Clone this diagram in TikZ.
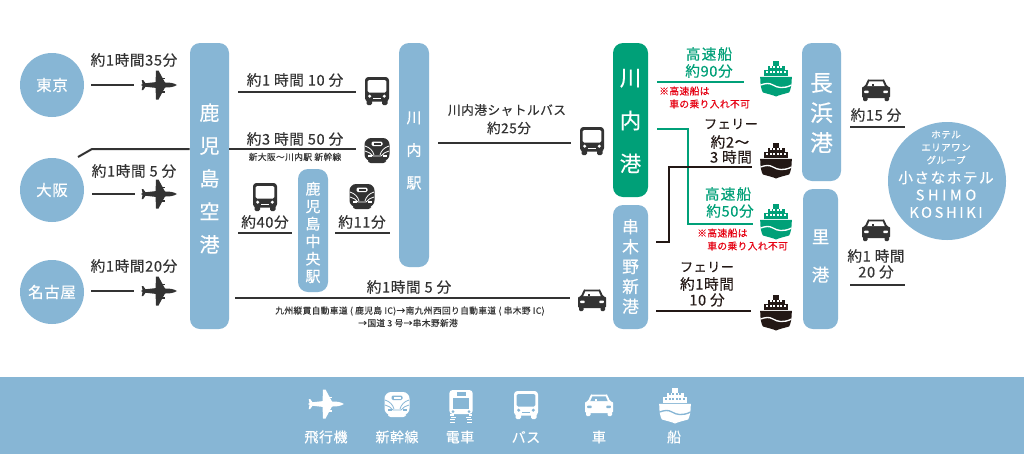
\documentclass[tikz,border=0pt]{standalone}
\usepackage{fontspec}
\setmainfont{Noto Sans CJK JP}[LetterSpace=4,FakeBold=0.35]
\newcommand{\wide}[1]{\addfontfeature{LetterSpace=#1}}
\definecolor{band}{HTML}{87B6D5}
\definecolor{grn}{HTML}{00A078}
\definecolor{txt}{HTML}{333333}
\definecolor{ink}{HTML}{231815}
\definecolor{rd}{HTML}{E60012}
\colorlet{fg}{txt}\colorlet{bg}{white}
\tikzset{
  lbl/.style={inner sep=0,align=center,text=txt,font=\fontsize{11}{12.8}\selectfont},
  ferry/.style={lbl,text=ink,font=\fontsize{11}{12.8}\selectfont},
  sublbl/.style={lbl,font=\fontsize{6.55}{9}\selectfont},
  redlbl/.style={inner sep=0,align=left,anchor=west,text=rd,font=\fontsize{7.3}{9.6}\selectfont},
  grnlbl/.style={lbl,text=grn,font=\fontsize{11}{12.8}\selectfont},
  barsty/.style={draw=none,rounded corners=7.5pt,inner sep=0},
  barlbl/.style={inner sep=0,align=center,text=white},
  circ/.style={circle,fill=band,inner sep=0,text=white,align=center},
  conn/.style={line width=1.5pt,draw=txt},
  thin conn/.style={line width=1.2pt,draw=txt},
  gconn/.style={line width=1.5pt,draw=grn},
  kconn/.style={line width=1.5pt,draw=ink},
  planeicon/.pic={
    \fill[fg] (-15,-1.6) -- (-4,-2.8) -- (10,-2.4) .. controls (14,-2) and (17,-0.8) .. (18,0)
      .. controls (17,0.8) and (14,2) .. (10,2.4) -- (-4,2.8) -- (-15,1.6) -- (-18,0) -- cycle;
    \fill[fg] (-3,-14.5) -- (-0.5,-14.5) -- (6.5,-1.5) -- (-3.5,-1.5) -- cycle;
    \fill[fg] (-3,14.5) -- (-0.5,14.5) -- (6.5,1.5) -- (-3.5,1.5) -- cycle;
    \fill[fg] (-17.3,-5) -- (-15.8,-5) -- (-13,-1) -- (-13,1) -- (-15.8,5) -- (-17.3,5) -- (-16.3,0) -- cycle;
    \fill[fg] (0,-7.5) rectangle (5.5,-5.8);
    \fill[fg] (0,5.8) rectangle (5.5,7.5);
  },
  busicon/.pic={
    \fill[fg,rounded corners=2.5] (-12,-14) rectangle (12,10.5);
    \fill[fg,rounded corners=1] (-10.5,8) rectangle (-5,14);
    \fill[fg,rounded corners=1] (5,8) rectangle (10.5,14);
    \fill[bg,rounded corners=1] (-9.3,-11) rectangle (9.3,1.5);
    \fill[bg] (-7.3,5.2) circle (1.7);
    \fill[bg] (7.3,5.2) circle (1.7);
    \fill[bg] (-4,7.2) rectangle (4,8.4);
  },
  trainicon/.pic={
    \fill[fg,rounded corners=5] (-12.5,-12) rectangle (12.5,11);
    \fill[fg,rounded corners=2] (-9,9) rectangle (9,13);
    \fill[bg,rounded corners=1] (-5.5,-8.5) rectangle (5.5,-4);
    \fill[fg] (-3.5,-7.5) rectangle (3.5,-5);
    \draw[bg,line width=.6] (-12,-4) .. controls (-7,-2.5) and (-4,1) .. (-3,5);
    \draw[bg,line width=.6] (12,-4) .. controls (7,-2.5) and (4,1) .. (3,5);
    \draw[bg,line width=.6] (-12,1) .. controls (-9,2) and (-6,3) .. (-4,6) -- (4,6) .. controls (6,3) and (9,2) .. (12,1);
    \fill[bg] (-9.5,5) rectangle (-5.5,7);
    \fill[bg] (5.5,5) rectangle (9.5,7);
  },
  tramicon/.pic={
    \fill[fg,rounded corners=2.5] (-11.7,-16) rectangle (11.7,8);
    \fill[bg] (-4.5,-13.7) rectangle (4.5,-10.5);
    \fill[bg] (-8.3,-8) rectangle (8.3,3);
    \fill[bg] (-8,5.5) circle (1.5);
    \fill[bg] (8,5.5) circle (1.5);
    \fill[fg] (-11,8) rectangle (-7.5,9.5);
    \fill[fg] (7.5,8) rectangle (11,9.5);
    \foreach \yy/\dd in {10.5/0,13/.6,15.5/1.2}{
      \fill[fg] (-10-\dd,\yy) rectangle (-5-\dd,\yy+1);
      \fill[fg] (5+\dd,\yy) rectangle (10+\dd,\yy+1);
    }
  },
  caricon/.pic={
    \fill[fg,rounded corners=1] (-14,8) -- (-14,-1) .. controls (-14,-3) and (-12,-3.5) .. (-11,-4)
      -- (-8.5,-9.5) .. controls (-8,-10.5) and (-7,-10.5) .. (-6,-10.5) -- (6,-10.5)
      .. controls (7,-10.5) and (8,-10.5) .. (8.5,-9.5) -- (11,-4) .. controls (12,-3.5) and (14,-3) .. (14,-1) -- (14,8) -- cycle;
    \fill[fg,rounded corners=.8] (-13,7) rectangle (-8.5,11);
    \fill[fg,rounded corners=.8] (8.5,7) rectangle (13,11);
    \fill[bg] (-8.8,-3.8) -- (-6.6,-8.7) -- (6.6,-8.7) -- (8.8,-3.8) -- cycle;
    \fill[fg] (-4.5,-6) rectangle (-2.5,-3.8);
    \fill[bg,rounded corners=.6] (-11.8,0.5) rectangle (-7.3,3.2);
    \fill[bg,rounded corners=.6] (7.3,0.5) rectangle (11.8,3.2);
  },
  shipicon/.pic={
    \fill[fg] (-15.8,-1.2) -- (15.8,-1.2) .. controls (16,6) and (14.5,13) .. (13,14.5)
      .. controls (8,16) and (3,17) .. (0,18.5)
      .. controls (-3,17) and (-8,16) .. (-13,14.5)
      .. controls (-14.5,13) and (-16,6) .. (-15.8,-1.2) -- cycle;
    \draw[bg,line width=1] (-15.5,7) .. controls (-11,5.5) and (-7,4.5) .. (-3,7)
      .. controls (1,9.8) and (8,11) .. (15.5,7);
    \fill[fg] (-12,-8) rectangle (12,-2.2);
    \fill[fg] (-8.5,-12.5) rectangle (8.5,-8);
    \fill[fg] (-2.8,-17.5) rectangle (2.8,-12.5);
    \foreach \xx in {-9.6,-6.1,-2.6,0.9,4.4,7.9}{\fill[bg] (\xx,-7.2) rectangle (\xx+1.9,-5);}
    \foreach \xx in {-6.2,-2.8,.6,4}{\fill[bg] (\xx,-11.7) rectangle (\xx+2.2,-9.6);}
  },
}
\newcommand{\icon}[5]{\colorlet{fg}{#4}\colorlet{bg}{#5}\pic at (#2,#3) {#1};}
\newcommand{\barn}[7]{\node[barsty,fill=#6,minimum width={(#4-#2)*0.75pt},minimum height={(#5-#3)*0.75pt}] (#1) at ({(#2+#4)/2},{(#3+#5)/2}) {};}
\newcommand{\hconn}[5]{\coordinate (#1a) at (#2,#4);\coordinate (#1b) at (#3,#4);\draw[#5] (#1a) -- (#1b);}
\begin{document}
\begin{tikzpicture}[x=0.75pt,y=-0.75pt]
\useasboundingbox (0,0) rectangle (1024,454);
\fill[white] (0,0) rectangle (1024,454);
\fill[band] (0,377) rectangle (1024,454);
% circles
\node[circ,minimum size=48pt,font=\fontsize{11.6}{13}\selectfont] (tokyo) at (52,85) {東京};
\node[circ,minimum size=48pt,font=\fontsize{11.6}{13}\selectfont] (osaka) at (52,190) {大阪};
\node[circ,minimum size=48pt,font=\fontsize{11.6}{13}\selectfont] (nagoya) at (52,292) {名古屋};
% bars
\barn{kagoshima}{190}{43}{229}{329}{band}{}
\barn{chuo}{298}{169}{328}{292}{band}{}
\barn{sendai}{399}{43}{429}{267}{band}{}
\barn{sendaiport}{613}{43}{648}{197}{grn}{}
\barn{kushikino}{613}{205}{648}{329}{band}{}
\barn{nagahama}{802}{43}{841}{181}{band}{}
\barn{sato}{803}{189}{838}{329}{band}{}
\node[barlbl,font=\fontsize{15}{24.7}\selectfont] (t1) at (209.5,178.5) {鹿\\児\\島\\空\\港};
\node[barlbl,font=\fontsize{11.2}{13.1}\selectfont] (t2) at (313,232.5) {鹿\\児\\島\\中\\央\\駅};
\node[barlbl,font=\fontsize{11.2}{24.5}\selectfont] (t3) at (414,150.5) {川\\内\\駅};
\node[barlbl,font=\fontsize{16}{32.2}\selectfont] (t4) at (630.5,121) {川\\内\\港};
\node[barlbl,font=\fontsize{12.5}{14.9}\selectfont] (t5) at (630.5,266.5) {串\\木\\野\\新\\港};
\node[barlbl,font=\fontsize{17}{22.5}\selectfont] (t6) at (821.5,113) {長\\浜\\港};
\node[barlbl,font=\fontsize{13}{28.5}\selectfont] (t7) at (820.5,256) {里\\港};
% hotel
\node[circ,minimum size=88.5pt] (hotel) at (947,181) {};
\node[barlbl,font=\fontsize{7.2}{9.6}\selectfont] (h1) at (946,147.5) {ホテル\\エリアワン\\グループ};
\node[barlbl,font=\fontsize{11}{13}\selectfont] (h2) at (946,194.5) {{\wide{10}小さなホテル}\\{\wide{24}SHIMO}\\{\wide{18}KOSHIKI}};
% left labels
\node[lbl] (l1) at (134,60) {約1時間35分};
\node[lbl] (l2) at (134,171) {約1時間 5 分};
\node[lbl] (l3) at (134,266) {約1時間20分};
\hconn{p1}{91}{134}{85}{thin conn}
\hconn{p2}{92}{135}{194}{thin conn}
\hconn{p3}{91}{134}{291}{thin conn}
\icon{planeicon}{159}{85}{txt}{white}
\icon{planeicon}{159}{194}{txt}{white}
\icon{planeicon}{159}{291}{txt}{white}
% Osaka line
\coordinate (os0) at (78,157);\coordinate (os1) at (92,149);\coordinate (os2) at (356,149);
\draw[conn,line join=round] (os0) -- (os1) -- (kagoshima.west |- os1);
\draw[conn] (kagoshima.east |- os1) -- (os2);
% airport to station
\node[lbl] (l4) at (295,80) {約1 時間 10 分};
\hconn{a1}{238}{356}{92}{conn}
\icon{busicon}{377}{91}{txt}{white}
\node[lbl] (l5) at (295,139) {約3 時間 50 分};
\node[sublbl] (l6) at (295,157) {新大阪～川内駅 新幹線};
\icon{trainicon}{377}{150}{txt}{white}
\icon{busicon}{265}{197}{txt}{white}
\node[lbl] (l7) at (265,222) {約40分};
\hconn{a2}{238}{292}{233}{conn}
\icon{trainicon}{362}{196}{txt}{white}
\node[lbl] (l8) at (362,222) {約11分};
\hconn{a3}{335}{390}{233}{conn}
\node[lbl] (l9) at (409,287) {約1時間 5 分};
\hconn{a4}{235}{570}{298}{conn}
\node[sublbl] (l10) at (410,311) {九州縦貫自動車道 ( 鹿児島 IC)→南九州西回り自動車道 ( 串木野 IC)};
\node[sublbl] (l11) at (408,323) {→国道 3 号→串木野新港};
\icon{caricon}{592}{300}{txt}{white}
% shuttle
\node[lbl,font=\fontsize{9.5}{13}\selectfont] (l12) at (507,110) {川内港シャトルバス};
\node[lbl,font=\fontsize{10.2}{13}\selectfont] (l13) at (509,128) {約25分};
\hconn{s1}{438}{571}{143}{conn}
\icon{busicon}{592}{141}{txt}{white}
% ports
\node[grnlbl,font=\fontsize{11}{13}\selectfont\wide{8}] (g1) at (709,54) {高速船};
\node[grnlbl] (g2) at (709,71) {約90分};
\hconn{g}{657}{744}{81.5}{gconn}
\icon{shipicon}{776}{78}{grn}{white}
\node[redlbl] (r1) at (659,91) {※高速船は};
\node[redlbl] (r2) at (669,104) {車の乗り入れ不可};
\coordinate (g3) at (657,129);\coordinate (g4) at (688,129);\coordinate (g5) at (688,224);\coordinate (g6) at (753,224);
\draw[gconn] (g3) -- (g4) -- (g5) -- (g6);
\coordinate (k1) at (656,242);\coordinate (k2) at (669,242);\coordinate (k3) at (669,167);\coordinate (k4) at (752,167);
\draw[kconn] (k1) -- (k2) -- (k3) -- (k4);
\node[ferry,font=\fontsize{9.8}{13}\selectfont] (f1) at (731,124) {フェリー};
\node[ferry] (f2) at (730,142) {約2～};
\node[ferry] (f3) at (731,157) {3 時間};
\icon{shipicon}{776}{160}{ink}{white}
\node[grnlbl,font=\fontsize{11}{13}\selectfont\wide{8}] (g7) at (728,194) {高速船};
\node[grnlbl] (g8) at (730,211) {約50分};
\icon{shipicon}{776}{221}{grn}{white}
\node[redlbl] (r3) at (697,233) {※高速船は};
\node[redlbl] (r4) at (707,246) {車の乗り入れ不可};
\node[ferry,font=\fontsize{9.8}{13}\selectfont] (f4) at (707,267) {フェリー};
\node[ferry] (f5) at (707,284) {約1時間};
\node[ferry] (f6) at (707,300) {10 分};
\hconn{k5}{656}{751}{311}{kconn}
\icon{shipicon}{776}{312}{ink}{white}
% right
\icon{caricon}{876}{90}{txt}{white}
\node[lbl] (c1) at (876,115) {約15 分};
\hconn{c}{850}{905}{127}{conn}
\icon{caricon}{876}{230}{txt}{white}
\node[lbl] (c2) at (876,256) {約1 時間};
\node[lbl] (c3) at (876,272) {20 分};
\hconn{d}{850}{905}{285}{conn}
% legend
\icon{planeicon}{326}{404}{white}{band}
\icon{trainicon}{397}{404}{white}{band}
\icon{tramicon}{461}{406}{white}{band}
\icon{busicon}{526}{405}{white}{band}
\icon{caricon}{599}{405}{white}{band}
\icon{shipicon}{675}{405}{white}{band}
\foreach \nm/\xx/\tt in {b1/326/飛行機,b2/397/新幹線,b3/460/電車,b4/526/バス,b5/599/車,b6/674/船}{
  \node[barlbl,font=\fontsize{10.5}{12}\selectfont] (\nm) at (\xx,437) {\tt};
}
\end{tikzpicture}
\end{document}
